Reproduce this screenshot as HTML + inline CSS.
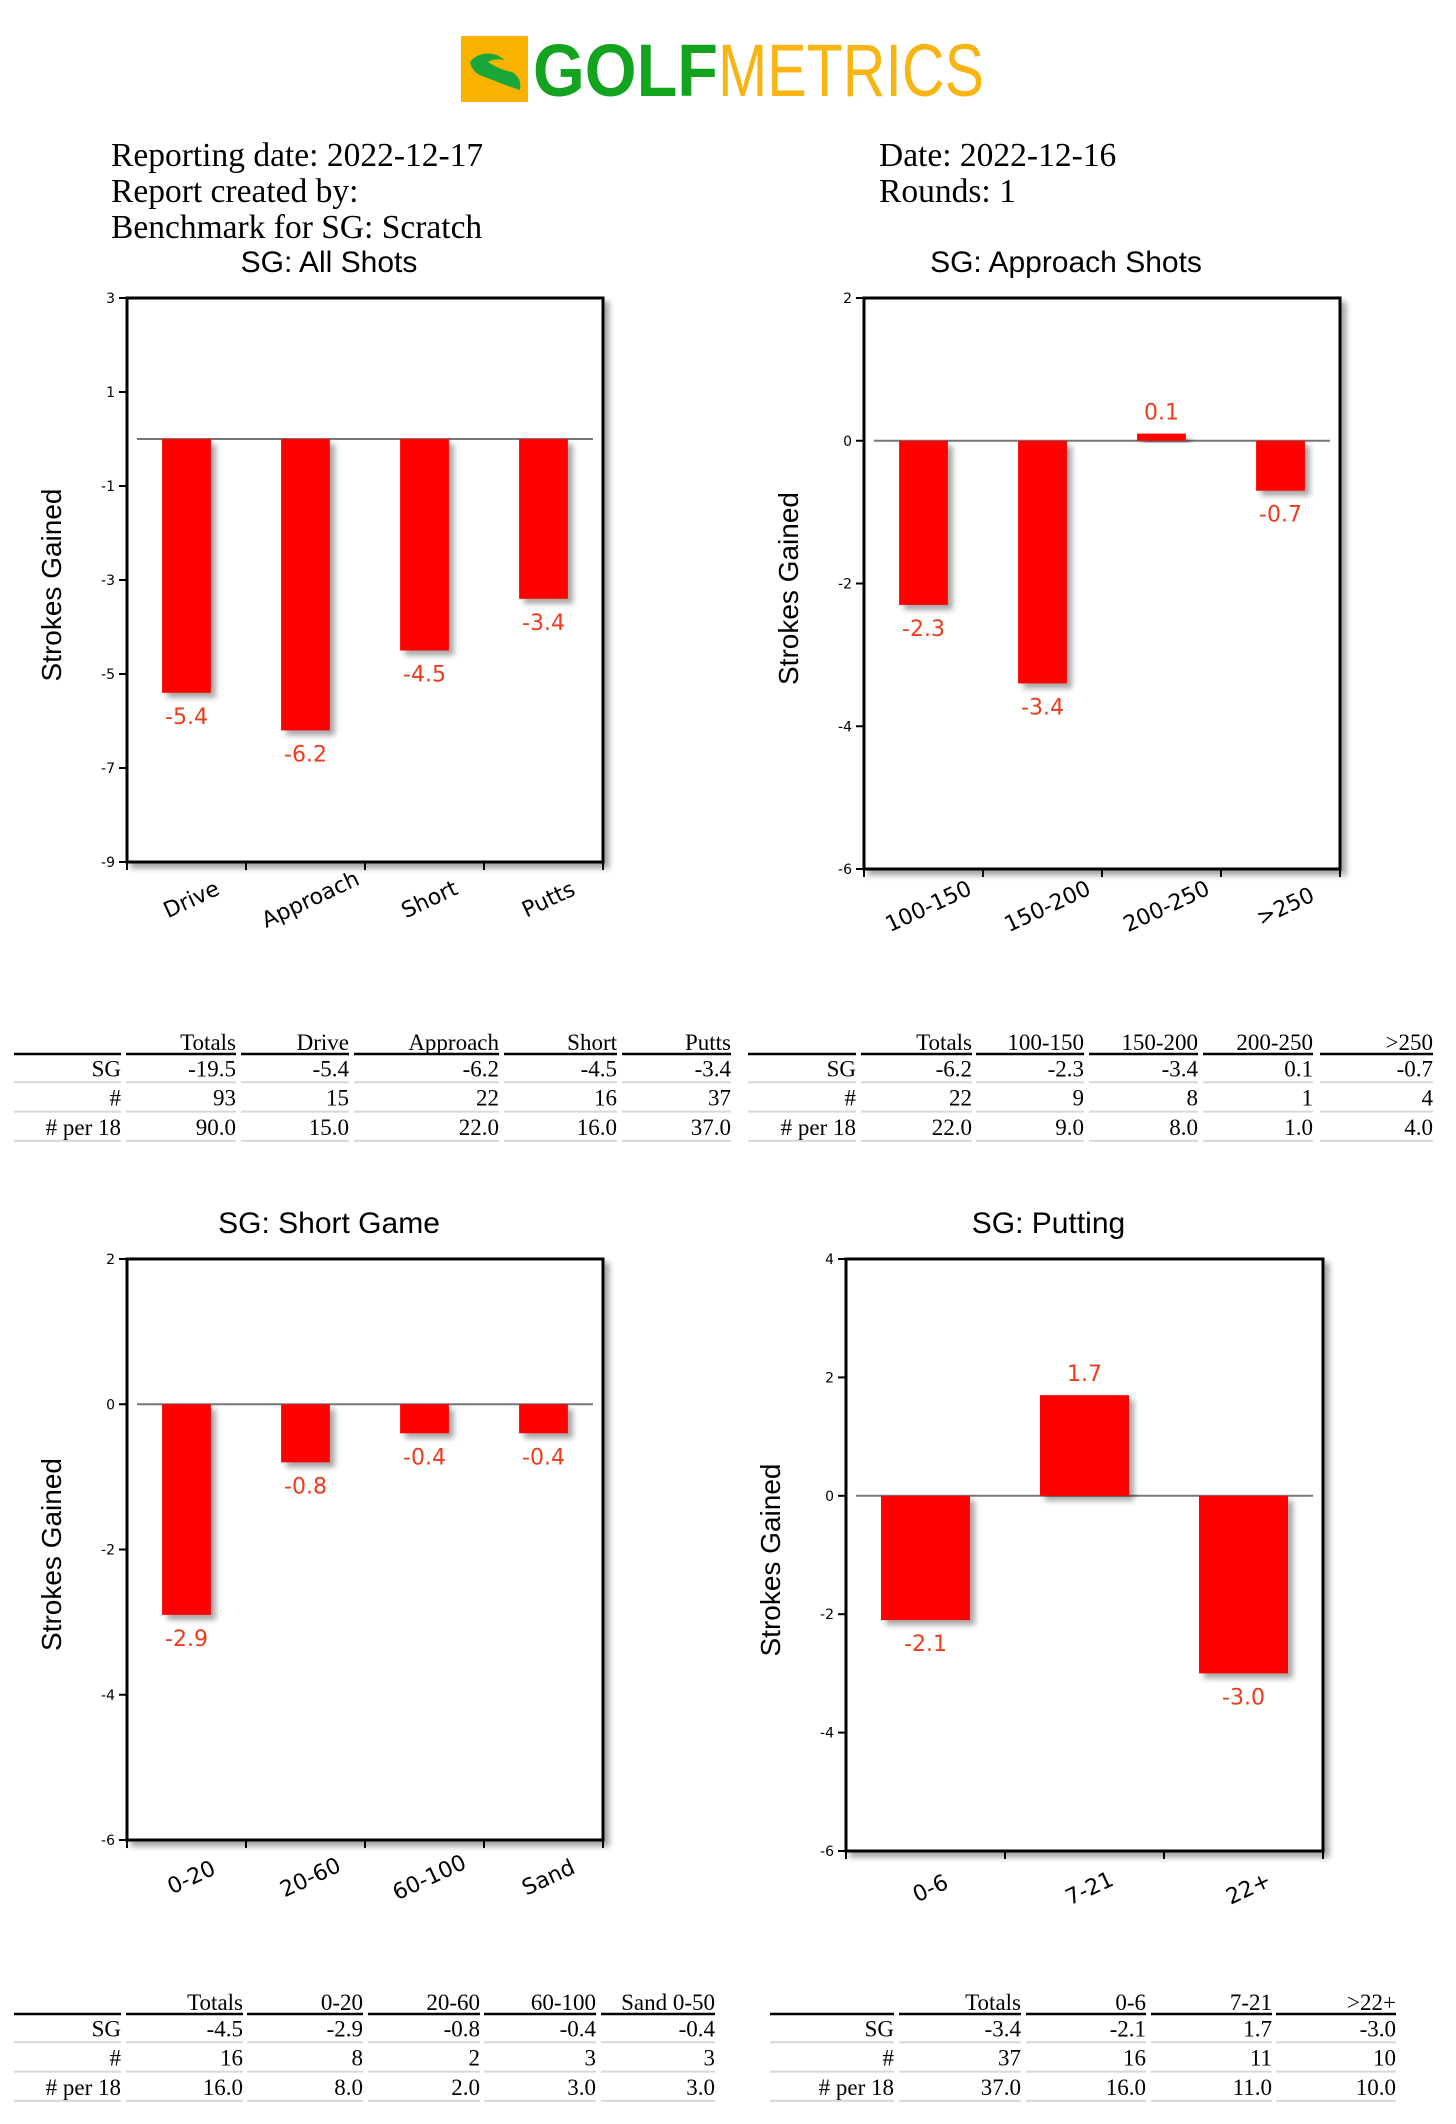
<!DOCTYPE html>
<html><head><meta charset="utf-8"><style>
html,body{margin:0;padding:0;background:#fff;}
body{width:1456px;height:2124px;position:relative;overflow:hidden;}
.hdr{position:absolute;font-family:"Liberation Serif",serif;font-size:33.5px;line-height:36px;color:#000;}
svg{position:absolute;left:0;top:0;}
</style></head><body>
<svg width="1456" height="120" style="top:0;left:0">
  <rect x="461" y="36" width="67" height="66" fill="#f9b200"/>
  <path d="M470 62 Q480 50 497 55 L505 60 Q494 58 488 62 Q500 70 512 72 Q522 78 520 90 L508 86 Q498 82 482 76 Q472 72 470 62Z" fill="#1aa73a"/>
  <text x="533" y="96" font-family="Liberation Sans,sans-serif" font-weight="bold" font-size="74" fill="#13a31f" textLength="185" lengthAdjust="spacingAndGlyphs">GOLF</text>
  <text x="718" y="96" font-family="Liberation Sans,sans-serif" font-size="74" fill="#f8b412" textLength="266" lengthAdjust="spacingAndGlyphs">METRICS</text>
</svg>
<div class="hdr" style="left:111px;top:138px">Reporting date: 2022-12-17<br>Report created by:<br>Benchmark for SG: Scratch</div>
<div class="hdr" style="left:879px;top:138px">Date: 2022-12-16<br>Rounds: 1</div>
<svg id="charts" width="1456" height="2124">
<defs>
<filter id="sh" x="-20%" y="-20%" width="150%" height="150%"><feDropShadow dx="5" dy="5" stdDeviation="3" flood-color="#000" flood-opacity="0.35"/></filter>
</defs>
</svg>
<script>
const NS='http://www.w3.org/2000/svg';
const svg=document.getElementById('charts');
// chart data
const c1Cats=['Drive','Approach','Short','Putts'];
const c1Vals=[-5.4,-6.2,-4.5,-3.4];
const c1Ticks=[3,1,-1,-3,-5,-7,-9];
const c2Cats=['100-150','150-200','200-250','>250'];
const c2Vals=[-2.3,-3.4,0.1,-0.7];
const c2Ticks=[2,0,-2,-4,-6];
const c3Cats=['0-20','20-60','60-100','Sand'];
const c3Vals=[-2.9,-0.8,-0.4,-0.4];
const c3Ticks=[2,0,-2,-4,-6];
const c4Cats=['0-6','7-21','22+'];
const c4Vals=[-2.1,1.7,-3.0];
const c4Ticks=[4,2,0,-2,-4,-6];
// table data
const t1Head=['','Totals','Drive','Approach','Short','Putts'];
const t1Rows=[['SG','-19.5','-5.4','-6.2','-4.5','-3.4'],['#','93','15','22','16','37'],['# per 18','90.0','15.0','22.0','16.0','37.0']];
const t2Head=['','Totals','100-150','150-200','200-250','>250'];
const t2Rows=[['SG','-6.2','-2.3','-3.4','0.1','-0.7'],['#','22','9','8','1','4'],['# per 18','22.0','9.0','8.0','1.0','4.0']];
const t3Head=['','Totals','0-20','20-60','60-100','Sand 0-50'];
const t3Rows=[['SG','-4.5','-2.9','-0.8','-0.4','-0.4'],['#','16','8','2','3','3'],['# per 18','16.0','8.0','2.0','3.0','3.0']];
const t4Head=['','Totals','0-6','7-21','>22+'];
const t4Rows=[['SG','-3.4','-2.1','1.7','-3.0'],['#','37','16','11','10'],['# per 18','37.0','16.0','11.0','10.0']];

function mk(tag,attrs,parent){const e=document.createElementNS(NS,tag);for(const k in attrs)e.setAttribute(k,attrs[k]);(parent||svg).appendChild(e);return e;}

function chart(name,title,cats,vals,ticks,L,R,T,B,barFrac){
  const g=mk('g',{});
  
  
  const ymax=ticks[0],ymin=ticks[ticks.length-1];
  const y=v=>T+(ymax-v)/(ymax-ymin)*(B-T);
  const band=(R-L)/cats.length;
  const x=i=>L+band*(i+0.5);
  const t=mk('text',{x:(L+R)/2-36,y:T-26,'text-anchor':'middle','font-family':'Liberation Sans,sans-serif','font-size':'30',fill:'#000'},g);
  t.textContent=title;
  
  
  const fr=mk('rect',{x:L,y:T,width:R-L,height:B-T,fill:'#fff',stroke:'#000','stroke-width':'3',filter:'url(#sh)'},g);
  
  
  ticks.forEach(v=>{
    mk('line',{x1:L-8,x2:L,y1:y(v),y2:y(v),stroke:'#000','stroke-width':'2'},g);
    const tl=mk('text',{x:L-12,y:y(v)+5,'text-anchor':'end','font-family':'DejaVu Sans,sans-serif','font-size':'14',fill:'#000'},g);
    tl.textContent=v;
    
    
  });
  for(let i=0;i<=cats.length;i++){mk('line',{x1:L+band*i,x2:L+band*i,y1:B,y2:B+8,stroke:'#000','stroke-width':'2'},g);}
  mk('line',{x1:L+10,x2:R-10,y1:y(0),y2:y(0),stroke:'#777','stroke-width':'2'},g);
  const bw=band*barFrac;
  vals.forEach((v,i)=>{
    const top=Math.min(y(v),y(0)),h=Math.abs(y(v)-y(0));
    const b=mk('rect',{x:x(i)-bw/2,y:top,width:bw,height:Math.max(h,1),fill:'#ff0000',filter:'url(#sh)'},g);
    
    
    const vl=mk('text',{x:x(i),y:v<0?y(v)+31:y(v)-14,'text-anchor':'middle','font-family':'DejaVu Sans,sans-serif','font-size':'22',fill:'#f03a1a'},g);
    vl.textContent=v.toFixed(1);
    
    
    const xl=mk('text',{x:0,y:0,'text-anchor':'middle','font-family':'DejaVu Sans,sans-serif','font-size':'22',fill:'#000',transform:`translate(${x(i)+8},${B+44}) rotate(-25)`},g);
    xl.textContent=cats[i];
    
    
  });
  const yt=mk('text',{x:0,y:0,'text-anchor':'middle','font-family':'Liberation Sans,sans-serif','font-size':'28',fill:'#000',transform:`translate(${L-66},${(T+B)/2+5}) rotate(-90)`},g);
  yt.textContent='Strokes Gained';
  
  
}
chart('chart-all-shots','SG: All Shots',c1Cats,c1Vals,c1Ticks,127,603,298,862,0.41);
chart('chart-approach','SG: Approach Shots',c2Cats,c2Vals,c2Ticks,864,1340,298,869,0.41);
chart('chart-short-game','SG: Short Game',c3Cats,c3Vals,c3Ticks,127,603,1259,1840,0.41);
chart('chart-putting','SG: Putting',c4Cats,c4Vals,c4Ticks,846,1323,1259,1851,0.56);

function table(name,head,rows,cols,yHead){
  const g=mk('g',{});
  
  
  const rowH=29.3;
  head.forEach((h,j)=>{
    const [a,b]=cols[j];
    const t=mk('text',{x:b,y:yHead,'text-anchor':'end','font-family':'Liberation Serif,serif','font-size':'23',fill:'#000'},g);
    t.textContent=h;
    
    
    mk('line',{x1:a,x2:b,y1:yHead+4,y2:yHead+4,stroke:'#000','stroke-width':'2.5'},g);
    rows.forEach((r,k)=>{
      const yy=yHead+rowH*(k+1);
      const c=mk('text',{x:b,y:yy-3,'text-anchor':'end','font-family':'Liberation Serif,serif','font-size':'23',fill:'#000'},g);
      c.textContent=r[j];
      
      
      mk('line',{x1:a,x2:b,y1:yy+3,y2:yy+3,stroke:'#d8d8d8','stroke-width':'2'},g);
    });
  });
}
table('table-all-shots',t1Head,t1Rows,[[14,121],[126,236],[241,349],[354,499],[504,617],[622,731]],1050);
table('table-approach',t2Head,t2Rows,[[748,856],[861,972],[976,1084],[1089,1198],[1203,1313],[1320,1433]],1050);
table('table-short-game',t3Head,t3Rows,[[14,121],[126,243],[247,363],[368,480],[484,596],[601,715]],2010);
table('table-putting',t4Head,t4Rows,[[770,894],[899,1021],[1026,1146],[1151,1272],[1276,1396]],2010);
</script>
</body></html>
